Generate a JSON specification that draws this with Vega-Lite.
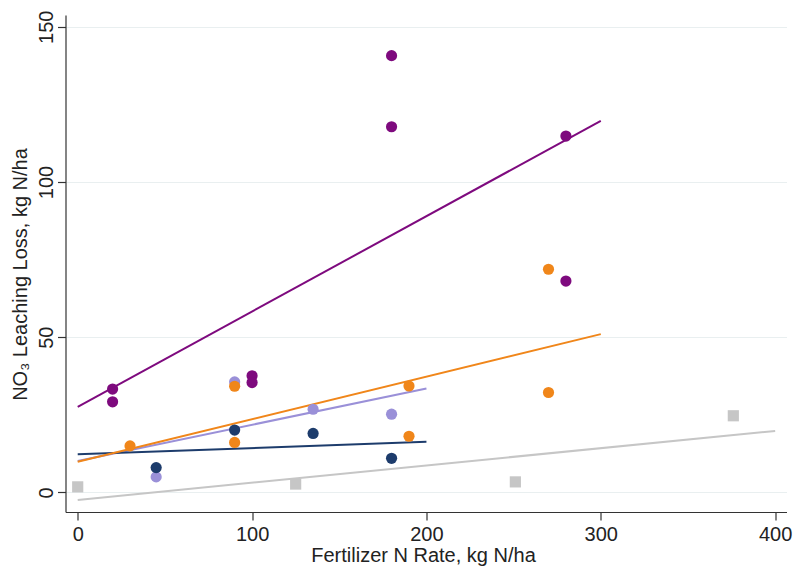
{
  "$schema": "https://vega.github.io/schema/vega-lite/v6.json",
  "width": 721,
  "height": 497,
  "autosize": "none",
  "padding": {"left": 65.5, "top": 15, "right": 7.5, "bottom": 59},
  "background": "white",
  "config": {
    "view": {"stroke": null},
    "axis": {
      "domainColor": "#333333",
      "domainWidth": 1.2,
      "tickColor": "#333333",
      "tickWidth": 1.2,
      "tickSize": 8,
      "labelColor": "#222222",
      "titleColor": "#222222",
      "titleFontWeight": "normal"
    }
  },
  "datasets": {
    "points": [
      {"series": "Gray", "rate": 0, "loss": 1.8},
      {"series": "Gray", "rate": 125, "loss": 2.7},
      {"series": "Gray", "rate": 251, "loss": 3.4},
      {"series": "Gray", "rate": 376, "loss": 24.7},
      {"series": "Lavender", "rate": 90, "loss": 35.6},
      {"series": "Lavender", "rate": 45, "loss": 5.0},
      {"series": "Lavender", "rate": 135, "loss": 26.8},
      {"series": "Lavender", "rate": 180, "loss": 25.2},
      {"series": "Navy", "rate": 90, "loss": 20.1},
      {"series": "Navy", "rate": 45, "loss": 8.0},
      {"series": "Navy", "rate": 135, "loss": 19.0},
      {"series": "Navy", "rate": 180, "loss": 11.0},
      {"series": "Orange", "rate": 30, "loss": 15.0},
      {"series": "Orange", "rate": 90, "loss": 34.2},
      {"series": "Orange", "rate": 90, "loss": 16.1},
      {"series": "Orange", "rate": 190, "loss": 34.3},
      {"series": "Orange", "rate": 190, "loss": 18.1},
      {"series": "Orange", "rate": 270, "loss": 71.9},
      {"series": "Orange", "rate": 270, "loss": 32.2},
      {"series": "Purple", "rate": 20, "loss": 33.3},
      {"series": "Purple", "rate": 20, "loss": 29.2},
      {"series": "Purple", "rate": 100, "loss": 37.6},
      {"series": "Purple", "rate": 100, "loss": 35.4},
      {"series": "Purple", "rate": 180, "loss": 140.7},
      {"series": "Purple", "rate": 180, "loss": 117.8},
      {"series": "Purple", "rate": 280, "loss": 114.8},
      {"series": "Purple", "rate": 280, "loss": 68.1}
    ],
    "fits": [
      {"series": "Gray", "rate": 0, "loss": -2.4},
      {"series": "Gray", "rate": 400, "loss": 19.8},
      {"series": "Lavender", "rate": 0, "loss": 10.1},
      {"series": "Lavender", "rate": 200, "loss": 33.5},
      {"series": "Navy", "rate": 0, "loss": 12.3},
      {"series": "Navy", "rate": 200, "loss": 16.3},
      {"series": "Orange", "rate": 0, "loss": 9.9},
      {"series": "Orange", "rate": 300, "loss": 51.0},
      {"series": "Purple", "rate": 0, "loss": 27.6},
      {"series": "Purple", "rate": 300, "loss": 119.7}
    ]
  },
  "encoding": {
    "x": {
      "field": "rate",
      "type": "quantitative",
      "scale": {"domain": [-7, 406.5], "nice": false, "zero": false},
      "axis": {
        "values": [0, 100, 200, 300, 400],
        "grid": false,
        "title": "Fertilizer N Rate, kg N/ha",
        "labelFont": "Liberation Sans",
        "labelFontSize": 20,
        "labelPadding": 4,
        "titleFont": "Liberation Sans",
        "titleFontSize": 20,
        "titleX": 357.5,
        "titleY": 43,
        "titleBaseline": "middle",
        "titleAlign": "center"
      }
    },
    "y": {
      "field": "loss",
      "type": "quantitative",
      "scale": {"domain": [-6.3, 153.8], "nice": false, "zero": false},
      "axis": {
        "values": [0, 50, 100, 150],
        "grid": true,
        "gridColor": "#e9eff0",
        "gridWidth": 1.2,
        "title": "NO₃ Leaching Loss, kg N/ha",
        "labelFont": "Liberation Sans",
        "labelFontSize": 20,
        "labelAngle": 270,
        "labelAlign": "center",
        "labelBaseline": "alphabetic",
        "labelPadding": 5,
        "titleFont": "Liberation Sans",
        "titleFontSize": 20,
        "titleAngle": 270,
        "titleX": -45.5,
        "titleY": 259,
        "titleAlign": "center",
        "titleBaseline": "middle"
      }
    },
    "color": {
      "field": "series",
      "type": "nominal",
      "legend": null,
      "scale": {
        "domain": ["Gray", "Lavender", "Navy", "Orange", "Purple"],
        "range": ["#c6c6c6", "#9a90d8", "#1d3c6c", "#f0861a", "#7e0a7e"]
      }
    }
  },
  "layer": [
    {
      "data": {"name": "fits"},
      "mark": {"type": "line", "strokeWidth": 2},
      "encoding": {"detail": {"field": "series", "type": "nominal"}}
    },
    {
      "data": {"name": "points"},
      "mark": {"type": "point", "filled": true, "opacity": 1, "size": 125},
      "encoding": {
        "shape": {
          "field": "series",
          "type": "nominal",
          "legend": null,
          "scale": {
            "domain": ["Gray", "Lavender", "Navy", "Orange", "Purple"],
            "range": ["square", "circle", "circle", "circle", "circle"]
          }
        }
      }
    }
  ]
}
